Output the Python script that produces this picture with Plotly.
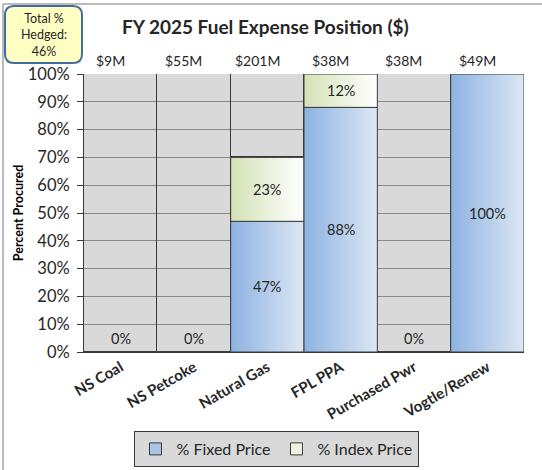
import plotly.graph_objects as go

# Fuel categories and procurement position (percent of FY 2025 expense)
categories = ["NS Coal", "NS Petcoke", "Natural Gas", "FPL PPA", "Purchased Pwr", "Vogtle/Renew"]
expense_labels = ["$9M", "$55M", "$201M", "$38M", "$38M", "$49M"]
fixed_pct = [0, 0, 47, 88, 0, 100]
index_pct = [0, 0, 23, 12, 0, 0]
total_hedged = "46%"

FONT = "Lato"
TXT = "#262626"
EDGE = "#3a3a3a"
FIXED_GRAD = ["#8db3e2", "#dde7f3"]
INDEX_GRAD = ["#d3e2b6", "#ffffff"]

W, H = 542, 470
ML, MR, MT, MB = 84, 18, 74, 118
PW, PH = W - ML - MR, H - MT - MB


def px_x(px):
    return (px - ML) / PW


def px_y(py):
    return (H - MB - py) / PH


x = list(range(len(categories)))
open_pct = [100 - f - i for f, i in zip(fixed_pct, index_pct)]
index_base = fixed_pct
open_base = [f + i for f, i in zip(fixed_pct, index_pct)]

fig = go.Figure()

fig.add_trace(go.Bar(
    x=x, y=fixed_pct, name="% Fixed Price", width=1,
    marker=dict(color="#a9c4e8", line=dict(color=EDGE, width=1)),
))
fig.add_trace(go.Bar(
    x=x, y=index_pct, base=index_base, name="% Index Price", width=1,
    marker=dict(color="#eef3e2", line=dict(color=EDGE, width=1)),
))
fig.add_trace(go.Bar(
    x=x, y=open_pct, base=open_base, name="Open", width=1, showlegend=False,
    marker=dict(color="rgba(217,217,217,0)", line=dict(color=EDGE, width=1)),
))


def gradient_segment(i, bottom, height, colors):
    top = bottom + height
    return go.Scatter(
        x=[i - 0.5, i + 0.5, i + 0.5, i - 0.5, i - 0.5],
        y=[bottom, bottom, top, top, bottom],
        mode="lines", fill="toself", showlegend=False, hoverinfo="skip",
        line=dict(color=EDGE, width=1),
        fillgradient=dict(type="horizontal",
                          colorscale=[[0, colors[0]], [1, colors[1]]]),
    )


# horizontal gradient shading laid over each filled segment
for i in x:
    if fixed_pct[i] > 0:
        fig.add_trace(gradient_segment(i, 0, fixed_pct[i], FIXED_GRAD))
    if index_pct[i] > 0:
        fig.add_trace(gradient_segment(i, index_base[i], index_pct[i], INDEX_GRAD))

annotations = []
for i in x:
    # segment value labels
    annotations.append(dict(
        x=i, y=max(fixed_pct[i] / 2, 5), xref="x", yref="y",
        text=f"{fixed_pct[i]}%", showarrow=False,
        font=dict(family=FONT, size=14.5, color=TXT),
    ))
    if index_pct[i] > 0:
        annotations.append(dict(
            x=i, y=index_base[i] + index_pct[i] / 2, xref="x", yref="y",
            text=f"{index_pct[i]}%", showarrow=False,
            font=dict(family=FONT, size=14.5, color=TXT),
        ))
    # expense totals above each column
    annotations.append(dict(
        x=i - 0.14, y=100, xref="x", yref="y", yanchor="bottom", yshift=3,
        text=expense_labels[i], showarrow=False,
        font=dict(family=FONT, size=14, color=TXT),
    ))

# title
annotations.append(dict(
    x=px_x(265), y=px_y(27), xref="paper", yref="paper",
    xanchor="center", yanchor="middle", showarrow=False,
    text="<b>FY 2025 Fuel Expense Position ($)</b>",
    font=dict(family=FONT, size=19, color=TXT),
))
# hedged summary text
annotations.append(dict(
    x=px_x(43.5), y=px_y(34.5), xref="paper", yref="paper",
    xanchor="center", yanchor="middle", showarrow=False,
    text=f"Total %<br>Hedged:<br>{total_hedged}", align="center",
    font=dict(family=FONT, size=12.5, color=TXT),
))


def rounded_rect(x0, y0, x1, y1, r):
    X = px_x
    Y = px_y
    return (f"M {X(x0 + r)},{Y(y0)} L {X(x1 - r)},{Y(y0)} "
            f"Q {X(x1)},{Y(y0)} {X(x1)},{Y(y0 + r)} L {X(x1)},{Y(y1 - r)} "
            f"Q {X(x1)},{Y(y1)} {X(x1 - r)},{Y(y1)} L {X(x0 + r)},{Y(y1)} "
            f"Q {X(x0)},{Y(y1)} {X(x0)},{Y(y1 - r)} L {X(x0)},{Y(y0 + r)} "
            f"Q {X(x0)},{Y(y0)} {X(x0 + r)},{Y(y0)} Z")


shapes = [
    # hedged summary badge
    dict(type="path", xref="paper", yref="paper", layer="below",
         path=rounded_rect(5, 6, 82, 63, 9),
         fillcolor="#ffffc4", line=dict(color="#3f6e9e", width=2)),
    # outer frame (top and left edges)
    dict(type="line", xref="paper", yref="paper",
         x0=px_x(3), x1=px_x(W + 2), y0=px_y(4), y1=px_y(4),
         line=dict(color="#a6a6a6", width=1.5)),
    dict(type="line", xref="paper", yref="paper",
         x0=px_x(3), x1=px_x(3), y0=px_y(4), y1=px_y(H + 2),
         line=dict(color="#a6a6a6", width=1.5)),
]

fig.update_layout(
    width=W, height=H,
    margin=dict(l=ML, r=MR, t=MT, b=MB, autoexpand=False),
    paper_bgcolor="white", plot_bgcolor="#d9d9d9",
    barmode="overlay", bargap=0,
    font=dict(family=FONT, color=TXT),
    showlegend=True,
    legend=dict(
        orientation="h", x=px_x(276), xanchor="center", y=px_y(467), yanchor="bottom",
        bgcolor="#d9d9d9", bordercolor=EDGE, borderwidth=1,
        font=dict(family=FONT, size=16, color=TXT),
        itemwidth=32, tracegroupgap=0,
    ),
    xaxis=dict(
        range=[-0.5, len(categories) - 0.5],
        tickmode="array", tickvals=x,
        ticktext=[f"<b>{c}</b>" for c in categories],
        tickangle=-30, tickfont=dict(family=FONT, size=15, color=TXT),
        showgrid=False, zeroline=False, automargin=False,
        showline=True, linecolor=EDGE, linewidth=1, ticks="",
    ),
    yaxis=dict(
        range=[0, 100], dtick=10, ticksuffix="%",
        tickfont=dict(family=FONT, size=16.5, color=TXT),
        showgrid=True, gridcolor="#8a8a8a", gridwidth=1, automargin=False,
        zeroline=False, showline=True, linecolor=EDGE, linewidth=1,
        ticks="outside", ticklen=6, tickcolor=EDGE, ticklabelstandoff=4,
        title=dict(text="<b>Percent Procured</b>",
                   font=dict(family=FONT, size=12.5, color="#000000"),
                   standoff=1),
    ),
    annotations=annotations,
    shapes=shapes,
)

fig.write_html("out.html")
